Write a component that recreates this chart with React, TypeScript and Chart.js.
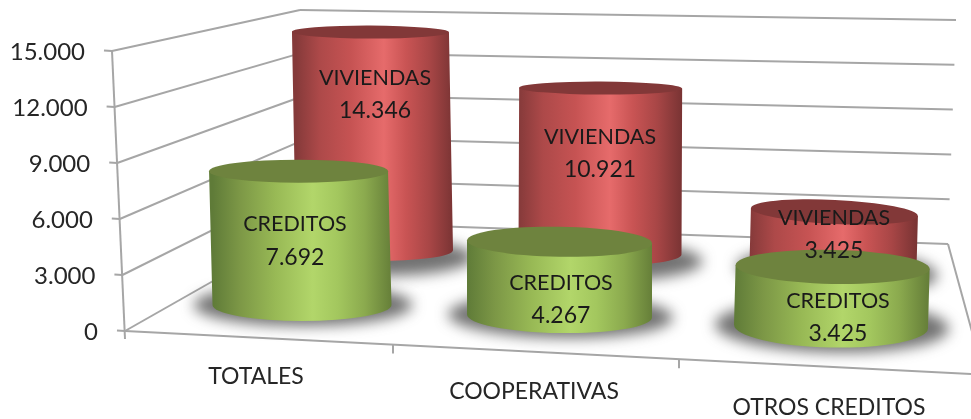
import React, { useEffect, useRef } from "react";
import { Chart, registerables } from "chart.js";

Chart.register(...registerables);

const categories = ["TOTALES", "COOPERATIVAS", "OTROS CREDITOS"];
const viviendas = [14346, 10921, 3425];
const creditos = [7692, 4267, 3425];
const seriesNames = ["VIVIENDAS", "CREDITOS"];

const FONT = "Lato, 'Open Sans', sans-serif";
const GRID = "#a6a6a6";

// perspective of the box drawn round the plot
const leanFront = 13;
const backLeft = { x: 317, y: 222, dx: 17, h: 212 };
const backRight = { x: 948, y: 244, dx: 8, h: 224 };
const frontRightY = 374;
const catLabelPos = [[256, 377], [534, 392], [829, 408]];
const catTicks = [393, 679];

const looks = [
  {
    // VIVIENDAS, set back in depth
    heightGain: 0.814,
    shiftX: [108.5, 52, 3],
    shiftY: [-81, -77, -67],
    rx: [78.5, 81.5, 83.5],
    ryTop: [6.5, 6.5, 12],
    ryBase: [11, 12, 15],
    tilt: [0.004, 0.005, 0.048],
    labelDx: [0.5, 0, 1],
    labelDy: [46, 49, 6],
    top: "#823838",
    shadow: { dx: 4, dy: 7, grow: 17, growY: 8 },
    stops: ["#853a3a", "#ad4949", "#c65353", "#e66b6b", "#c95454", "#a84646", "#7a3434"],
  },
  {
    // CREDITOS, near the front
    heightGain: 0.932,
    shiftX: [36, 11.5, 1],
    shiftY: [-26, -15, -4.5],
    rx: [89.5, 92.5, 97],
    ryTop: [11.5, 15, 17],
    ryBase: [16, 17, 21],
    tilt: [0, 0.016, 0.02],
    labelDx: [-7, 1.5, 7],
    labelDy: [53, 41, 34],
    top: "#6e833e",
    shadow: { dx: 1, dy: 0, grow: 20, growY: 5 },
    stops: ["#5f7b38", "#7c9746", "#98b955", "#b2d66a", "#a3c75e", "#8baa4e", "#667f39"],
  },
];
const stopAt = [0, 0.15, 0.35, 0.56, 0.7, 0.85, 1];
const labelLine = 33;

const fmt = (v: number) => String(v).replace(/\B(?=(\d{3})+$)/g, ".");

function line(c: CanvasRenderingContext2D, x1: number, y1: number, x2: number, y2: number) {
  c.beginPath();
  c.moveTo(x1, y1);
  c.lineTo(x2, y2);
  c.stroke();
}

const boxPlugin = {
  id: "box3d",
  beforeDatasetsDraw(chart: any) {
    const c = chart.ctx as CanvasRenderingContext2D;
    const y = chart.scales.y;
    const area = chart.chartArea;
    const y0 = y.getPixelForValue(0);
    c.save();
    c.strokeStyle = GRID;
    c.lineWidth = 2;
    c.fillStyle = "#262626";
    c.textBaseline = "middle";
    c.textAlign = "right";
    c.font = `24px ${FONT}`;
    for (const t of y.ticks) {
      const f = t.value / y.max;
      const fx = area.left - leanFront * f;
      const fy = y.getPixelForValue(t.value);
      const bx = backLeft.x - backLeft.dx * f;
      const by = backLeft.y - backLeft.h * f;
      const rx = backRight.x + backRight.dx * f;
      const ry = backRight.y - backRight.h * f;
      line(c, fx, fy, bx, by);
      line(c, bx, by, rx, ry);
      line(c, fx - 8, fy - 0.5, fx, fy);
      c.fillText(fmt(t.value), fx - 27, fy + 1);
    }
    line(c, area.left, y0 + 8, area.left - leanFront, y.getPixelForValue(y.max));
    line(c, area.left, y0, area.right, frontRightY);
    const slope = (frontRightY - y0) / (area.right - area.left);
    for (const tx of catTicks) {
      const ty = y0 + (tx - area.left) * slope;
      line(c, tx, ty, tx, ty + 9);
    }
    line(c, backRight.x, backRight.y, area.right + 3, backRight.y + 95);
    c.fillStyle = "#262626";
    c.textAlign = "center";
    c.font = `23px ${FONT}`;
    categories.forEach((name, i) => c.fillText(name, catLabelPos[i][0], catLabelPos[i][1]));
    c.restore();
  },
  afterDatasetsDraw(chart: any) {
    const c = chart.ctx as CanvasRenderingContext2D;
    const y = chart.scales.y;
    const x = chart.scales.x;
    const y0 = y.getPixelForValue(0);
    const labels: any[] = [];
    chart.data.datasets.forEach((ds: any, s: number) => {
      const look = looks[s];
      const meta = chart.getDatasetMeta(s);
      ds.data.forEach((v: number, i: number) => {
        const bar = meta.data[i];
        const cx = x.getPixelForValue(i) + look.shiftX[i];
        const by = y0 + look.shiftY[i];
        const h = (y0 - bar.y) * look.heightGain;
        const rx = look.rx[i];
        const tx = cx + (cx - 560) * h * 1e-4;
        const ty = by - h;
        const rot = look.tilt[i];
        const dyE = rx * Math.sin(rot);

        // floor shadow
        c.save();
        c.filter = "blur(7px)";
        c.fillStyle = "rgba(60,60,60,0.72)";
        c.beginPath();
        c.ellipse(
          cx + look.shadow.dx,
          by + look.shadow.dy,
          rx + look.shadow.grow,
          look.ryBase[i] + look.shadow.growY,
          rot,
          0,
          Math.PI * 2
        );
        c.fill();
        c.restore();

        // body
        const g = c.createLinearGradient(cx - rx, 0, cx + rx, 0);
        look.stops.forEach((col, k) => g.addColorStop(stopAt[k], col));
        c.save();
        c.fillStyle = g;
        c.beginPath();
        c.moveTo(tx - rx, ty - dyE);
        c.lineTo(tx + rx, ty + dyE);
        c.lineTo(cx + rx, by + dyE);
        c.ellipse(cx, by, rx, look.ryBase[i], rot, 0, Math.PI);
        c.closePath();
        c.fill();

        // top face
        c.fillStyle = look.top;
        c.beginPath();
        c.ellipse(tx, ty, rx, look.ryTop[i], rot, 0, Math.PI * 2);
        c.fill();
        c.restore();

        labels.push([seriesNames[s], fmt(v), cx + look.labelDx[i], ty + look.labelDy[i]]);
      });
    });
    c.save();
    c.fillStyle = "#1a1a1a";
    c.textAlign = "center";
    c.textBaseline = "middle";
    for (const [a, b, lx, ly] of labels) {
      c.font = `21.5px ${FONT}`;
      c.fillText(a, lx, ly);
      c.font = `23px ${FONT}`;
      c.fillText(b, lx, ly + labelLine);
    }
    c.restore();
  },
};

export default function App() {
  const ref = useRef<HTMLCanvasElement | null>(null);
  useEffect(() => {
    document.body.style.margin = "0";
    document.body.style.background = "#ffffff";
    const chart = new Chart(ref.current!, {
      type: "bar",
      data: {
        labels: categories,
        datasets: [
          { label: seriesNames[0], data: viviendas, backgroundColor: "transparent", borderWidth: 0 },
          { label: seriesNames[1], data: creditos, backgroundColor: "transparent", borderWidth: 0 },
        ],
      },
      options: {
        responsive: false,
        animation: false,
        layout: { padding: { left: 125, right: 0, top: 51, bottom: 88 } },
        plugins: { legend: { display: false }, tooltip: { enabled: false } },
        scales: {
          x: { display: false },
          y: { display: false, min: 0, max: 15000, ticks: { stepSize: 3000 } },
        },
      },
      plugins: [boxPlugin],
    } as any);
    return () => chart.destroy();
  }, []);
  return (
    <canvas
      ref={ref}
      width={971}
      height={419}
      style={{ display: "block", width: 971, height: 419, filter: "blur(0.5px)" }}
    />
  );
}
